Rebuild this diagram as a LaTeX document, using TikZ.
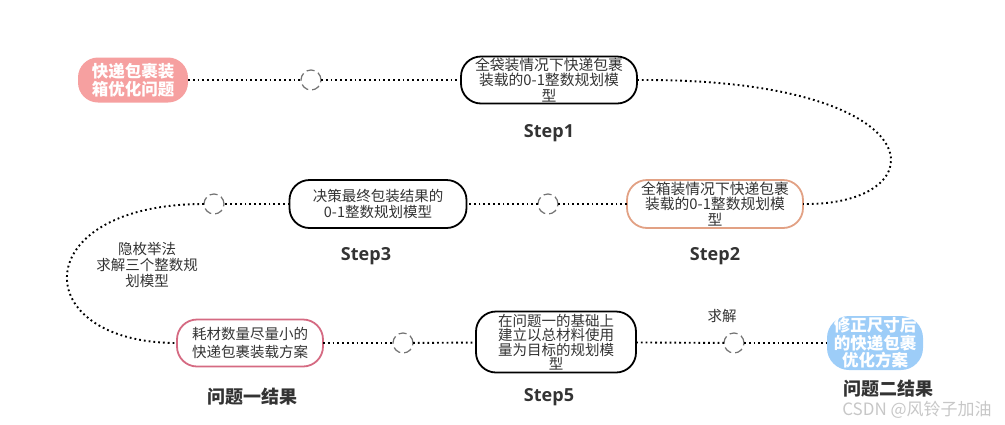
\documentclass[tikz,border=0pt]{standalone}
\usepackage{fontspec}
\setmainfont{Noto Sans CJK SC}
\newfontfamily\stepfont{Open Sans}
\begin{document}
\begin{tikzpicture}[x=1pt,y=-1pt,
  every node/.style={inner sep=0pt, outer sep=0pt},
  pill/.style={draw, line width=1.8pt, fill=white, rounded corners=20pt,
     align=center, text=black!80, font=\fontsize{14.8}{15.3}\selectfont},
  solidpill/.style={fill=#1, rounded corners=20pt, align=center, text=white,
     font=\fontsize{16.5}{17.5}\selectfont\bfseries},
  hub/.style={circle, draw=black!55, line width=1.2pt, dash pattern=on 8pt off 4pt,
     fill=white, minimum size=20pt},
  link/.style={line width=1.9pt, dash pattern=on 1.8pt off 3pt, black},
  steplabel/.style={font=\stepfont\bfseries\fontsize{18}{20}\selectfont, text=black!80},
  reslabel/.style={font=\fontsize{18}{19}\selectfont\bfseries, text=black!80},
  note/.style={align=center, text=black!80, font=\fontsize{14.5}{16}\selectfont}
]
\definecolor{startpink}{HTML}{F6A0A0}
\definecolor{resblue}{HTML}{9DCDF8}
\definecolor{sttwo}{HTML}{E2A184}
\definecolor{resone}{HTML}{D56A82}
\useasboundingbox (0,0) rectangle (1005,424);

% nodes
\node[solidpill=startpink, minimum width=110pt, minimum height=45pt] (start) at (133,80) {快递包裹装\\箱优化问题};
\node[hub] (c1) at (311,80) {};
\node[pill, minimum width=176pt, minimum height=47pt] (s1) at (549,80) {全袋装情况下快递包裹\\装载的0-1整数规划模\\型};
\node[steplabel] (l1) at (549,133) {Step1};

\node[pill, draw=sttwo, minimum width=176pt, minimum height=48pt] (s2) at (715,204) {全箱装情况下快递包裹\\装载的0-1整数规划模\\型};
\node[steplabel] (l2) at (715,256) {Step2};
\node[hub] (c2) at (548,204) {};

\node[pill, minimum width=177pt, minimum height=48pt, font=\fontsize{14.5}{16}\selectfont] (s3) at (378,204) {决策最终包装结果的\\0-1整数规划模型};
\node[steplabel] (l3) at (366,256) {Step3};
\node[hub] (c3) at (214,204) {};

\node[note] (n1) at (147,265) {隐枚举法\\求解三个整数规\\划模型};

\node[pill, draw=resone, minimum width=146pt, minimum height=47pt, font=\fontsize{14.5}{17.5}\selectfont] (r1) at (250,343) {耗材数量尽量小的\\快递包裹装载方案};
\node[reslabel] (lr1) at (252,397) {问题一结果};
\node[hub] (c4) at (403,343) {};

\node[pill, minimum width=160pt, minimum height=61pt, font=\fontsize{14.5}{14.5}\selectfont] (s5) at (556,342) {在问题一的基础上\\建立以总材料使用\\量为目标的规划模\\型};
\node[steplabel] (l5) at (549,397) {Step5};
\node[note] (n2) at (722,316) {求解};
\node[hub] (c5) at (734,343) {};

\node[solidpill=resblue, minimum width=96pt, minimum height=54pt, rounded corners=22pt] (r2) at (875,343) {修正尺寸后\\的快递包裹\\优化方案};
\node[reslabel] (lr2) at (888,389) {问题二结果};

\node[text=black!22, font=\fontsize{17}{19}\selectfont] (wm) at (917,410) {CSDN @风铃子加油};

% connectors
\draw[link] (start) -- (c1);
\draw[link] (c1) -- (s1);
\draw[link] (s1.east) .. controls (940,78) and (940,206) .. (s2.east);
\draw[link] (s2) -- (c2);
\draw[link] (c2) -- (s3);
\draw[link] (s3) -- (c3);
\draw[link] (c3.west) .. controls (26,204) and (26,343) .. (r1.west);
\draw[link] (r1) -- (c4);
\draw[link] (c4) -- (s5);
\draw[link] (s5) -- (c5);
\draw[link] (c5) -- (r2);
\end{tikzpicture}
\end{document}
